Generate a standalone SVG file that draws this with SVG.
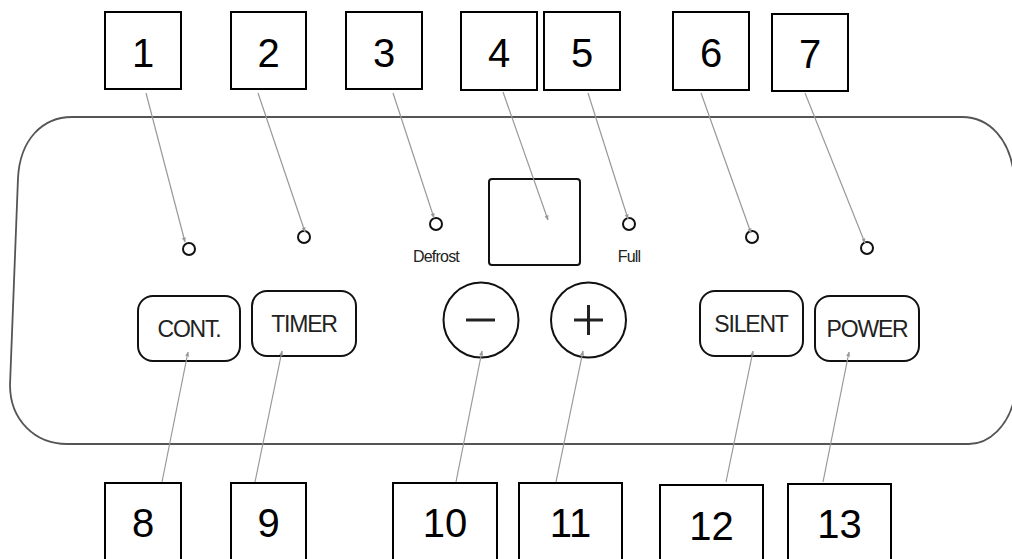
<svg xmlns="http://www.w3.org/2000/svg" width="1012" height="559" viewBox="0 0 1012 559">
<style>
.box{fill:#fff;stroke:#000;stroke-width:2}
.num{font-family:"Liberation Sans",Arial,sans-serif;font-size:40px;fill:#000;text-anchor:middle}
.panel{fill:#fff;stroke:#555;stroke-width:1.8}
.btn{fill:#fff;stroke:#111;stroke-width:2}
.btxt{font-family:"Liberation Sans",Arial,sans-serif;font-size:23px;fill:#222;text-anchor:middle;letter-spacing:-1.2px}
.led{fill:#fff;stroke:#111;stroke-width:2}
.lbl{font-family:"Liberation Sans",Arial,sans-serif;font-size:16px;fill:#222;text-anchor:middle;letter-spacing:-0.8px}
.sym{stroke:#222;stroke-width:3;fill:none}
.conn{stroke:#999;stroke-width:1.2;fill:none;marker-end:url(#ah)}
</style>
<defs>
<marker id="ah" viewBox="0 0 10 10" refX="9" refY="5" markerWidth="5" markerHeight="5" orient="auto" markerUnits="userSpaceOnUse">
<path d="M0,1 L10,5 L0,9 Z" fill="#999"/>
</marker>
</defs>
<rect width="1012" height="559" fill="#fff"/>
<g id="panel">
<path class="panel" d="M72,117 L962,117 C990,117 1010,140 1014,175 L1014,400 C1008,425 990,444 969,444 L67,444 C35,444 10,420 10,385 L18,178 C20,140 42,117 72,117 Z"/>
</g>
<g id="display"><rect class="btn" x="489" y="179" width="91" height="86" rx="3"/></g>
<g id="led1"><circle class="led" cx="189" cy="249" r="6"/></g>
<g id="led2"><circle class="led" cx="304" cy="237" r="6"/></g>
<g id="led-defrost"><circle class="led" cx="436" cy="224" r="6"/><text class="lbl" x="436" y="262">Defrost</text></g>
<g id="led-full"><circle class="led" cx="629" cy="224" r="6"/><text class="lbl" x="629" y="262">Full</text></g>
<g id="led6"><circle class="led" cx="752" cy="237" r="6"/></g>
<g id="led7"><circle class="led" cx="867" cy="248" r="6"/></g>
<g id="btn-cont"><rect class="btn" x="138" y="296" width="102" height="65" rx="15"/><text class="btxt" x="189" y="337">CONT.</text></g>
<g id="btn-timer"><rect class="btn" x="252" y="291" width="104" height="65" rx="15"/><text class="btxt" x="304" y="332">TIMER</text></g>
<g id="btn-minus"><circle class="btn" cx="481" cy="320" r="37.5"/><path class="sym" d="M466,320 H495"/></g>
<g id="btn-plus"><circle class="btn" cx="588.5" cy="320" r="37.5"/><path class="sym" d="M574,320 H603 M588.5,305 V335"/></g>
<g id="btn-silent"><rect class="btn" x="700" y="291" width="103" height="65" rx="15"/><text class="btxt" x="751" y="332">SILENT</text></g>
<g id="btn-power"><rect class="btn" x="815" y="296" width="104" height="65" rx="15"/><text class="btxt" x="867" y="337">POWER</text></g>
<g id="connectors">
<line class="conn" x1="146" y1="93" x2="185" y2="242"/>
<line class="conn" x1="258" y1="93" x2="305" y2="232"/>
<line class="conn" x1="393" y1="93" x2="434" y2="218"/>
<line class="conn" x1="503" y1="92" x2="548" y2="220"/>
<line class="conn" x1="588" y1="93" x2="628" y2="219"/>
<line class="conn" x1="701" y1="93" x2="751" y2="233"/>
<line class="conn" x1="805" y1="93" x2="865" y2="243"/>
<line class="conn" x1="162" y1="482" x2="188" y2="352"/>
<line class="conn" x1="255" y1="482" x2="282" y2="351"/>
<line class="conn" x1="456" y1="482" x2="482" y2="351"/>
<line class="conn" x1="556" y1="482" x2="583" y2="351"/>
<line class="conn" x1="726" y1="482" x2="753" y2="351"/>
<line class="conn" x1="823" y1="482" x2="849" y2="352"/>
</g>
<g id="n1"><rect class="box" x="105" y="12" width="76" height="77"/><text class="num" x="143" y="67">1</text></g>
<g id="n2"><rect class="box" x="231" y="12" width="75" height="77"/><text class="num" x="268.5" y="67">2</text></g>
<g id="n3"><rect class="box" x="346" y="12" width="76" height="77"/><text class="num" x="384" y="67">3</text></g>
<g id="n4"><rect class="box" x="461" y="12" width="76" height="78"/><text class="num" x="499" y="67">4</text></g>
<g id="n5"><rect class="box" x="544" y="12" width="76" height="78"/><text class="num" x="582" y="67">5</text></g>
<g id="n6"><rect class="box" x="673" y="12" width="76" height="78"/><text class="num" x="711" y="67">6</text></g>
<g id="n7"><rect class="box" x="772" y="14" width="76" height="77"/><text class="num" x="810" y="68">7</text></g>
<g id="n8"><rect class="box" x="105" y="483" width="76" height="80"/><text class="num" x="143" y="537">8</text></g>
<g id="n9"><rect class="box" x="231" y="483" width="75" height="80"/><text class="num" x="268.5" y="537">9</text></g>
<g id="n10"><rect class="box" x="393" y="483" width="104" height="80"/><text class="num" x="445" y="537">10</text></g>
<g id="n11"><rect class="box" x="519" y="483" width="103" height="80"/><text class="num" x="570.5" y="537">11</text></g>
<g id="n12"><rect class="box" x="660" y="485" width="103" height="80"/><text class="num" x="711.5" y="540">12</text></g>
<g id="n13"><rect class="box" x="788" y="484" width="103" height="80"/><text class="num" x="839.5" y="538">13</text></g>
</svg>
